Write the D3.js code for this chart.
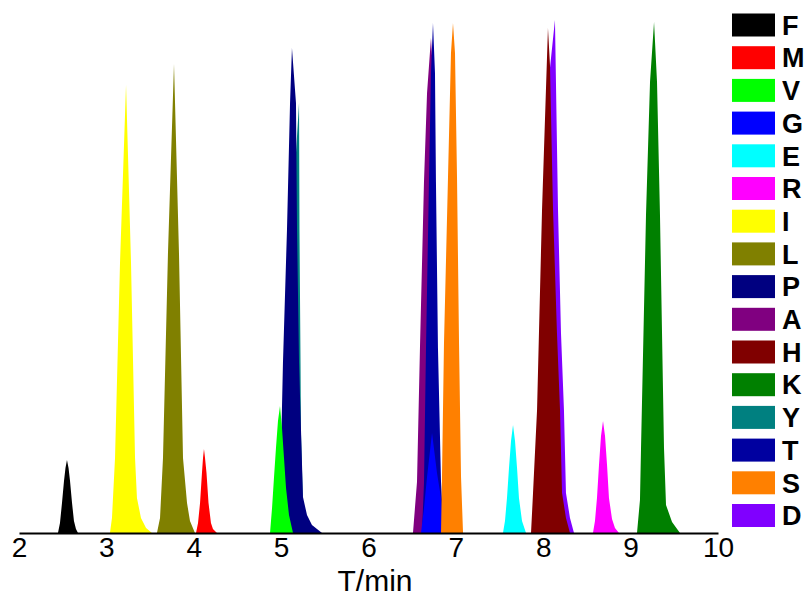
<!DOCTYPE html>
<html>
<head>
<meta charset="utf-8">
<script src="https://cdn.jsdelivr.net/npm/d3@7"></script>
<style>
  html, body { margin: 0; padding: 0; background: #fff; }
  svg { display: block; }
  text { font-family: "Liberation Sans", Arial, Helvetica, sans-serif; }
</style>
</head>
<body>
<svg id="chart" width="804" height="597"></svg>
<script>
// Amino acid chromatogram: retention time (min) vs detector response (a.u.)
const legendOrder = ["F", "M", "V", "G", "E", "R", "I", "L", "P", "A", "H", "K", "Y", "T", "S", "D"];
const seriesColors = ["#000000", "#ff0000", "#00ff00", "#0000ff", "#00ffff", "#ff00ff", "#ffff00", "#808000",
                      "#000080", "#800080", "#800000", "#008000", "#008080", "#0000a0", "#ff8000", "#8000ff"];
// peaks painted back to front
const drawOrder = ["F", "M", "I", "L", "Y", "P", "V", "A", "T", "G", "S", "E", "D", "H", "R", "K"];
const xTicks = [2, 3, 4, 5, 6, 7, 8, 9, 10];

// [retention time, response] points along each peak outline
const peakF = [[2.446,0],[2.469,10],[2.492,30],[2.515,52],[2.532,65],[2.549,73],[2.567,65],[2.584,52],[2.607,30],[2.629,12],[2.652,4],[2.675,0]];
const peakM = [[4.026,0],[4.049,10],[4.072,30],[4.094,60],[4.106,75],[4.117,84],[4.129,75],[4.146,60],[4.169,30],[4.197,10],[4.220,4],[4.266,0]];
const peakV = [[4.873,0],[4.896,25],[4.918,55],[4.941,85],[4.964,112],[4.987,127],[5.010,105],[5.033,75],[5.056,45],[5.090,18],[5.136,0]];
const peakG = [[6.601,0],[6.635,25],[6.670,56],[6.727,100],[6.784,60],[6.830,35],[6.864,0]];
const peakE = [[7.539,0],[7.562,12],[7.585,35],[7.608,65],[7.631,92],[7.654,108],[7.677,92],[7.700,65],[7.722,35],[7.757,12],[7.803,0]];
const peakR = [[8.569,0],[8.592,12],[8.615,35],[8.638,68],[8.661,97],[8.684,112],[8.707,97],[8.730,68],[8.752,35],[8.787,14],[8.821,5],[8.867,0]];
const peakI = [[3.041,0],[3.064,15],[3.099,75],[3.156,270],[3.225,448],[3.282,270],[3.328,75],[3.350,35],[3.396,15],[3.454,5],[3.522,0]];
const peakL = [[3.579,0],[3.614,15],[3.648,75],[3.705,280],[3.774,469],[3.831,280],[3.877,75],[3.923,30],[3.957,12],[4.014,0]];
const peakP = [[4.953,0],[4.987,36],[5.021,170],[5.067,303],[5.102,430],[5.124,485],[5.170,430],[5.182,303],[5.205,170],[5.250,36],[5.296,18],[5.353,8],[5.468,0]];
const peakA = [[6.509,0],[6.555,51],[6.589,185],[6.635,351],[6.670,440],[6.715,495],[6.738,460],[6.761,300],[6.784,150],[6.818,40],[6.853,0]];
const peakH = [[7.860,0],[7.883,40],[7.929,123],[7.986,323],[8.054,505],[8.077,468],[8.112,323],[8.157,200],[8.192,123],[8.215,40],[8.260,15],[8.306,0]];
const peakK = [[9.073,0],[9.107,33],[9.119,85],[9.176,318],[9.222,451],[9.268,511],[9.302,451],[9.336,318],[9.382,85],[9.405,28],[9.474,11],[9.565,0]];
const peakY = [[5.044,0],[5.079,100],[5.136,250],[5.170,380],[5.205,430],[5.210,303],[5.222,170],[5.227,100],[5.250,30],[5.285,0]];
const peakT = [[6.612,0],[6.635,50],[6.658,185],[6.692,351],[6.715,460],[6.738,510],[6.761,460],[6.772,351],[6.795,185],[6.830,51],[6.853,15],[6.887,0]];
const peakS = [[6.830,0],[6.841,56],[6.864,190],[6.910,356],[6.944,480],[6.967,510],[6.990,480],[7.013,356],[7.036,190],[7.059,56],[7.082,0]];
const peakD = [[7.963,0],[8.031,250],[8.077,465],[8.134,513],[8.169,323],[8.203,200],[8.237,123],[8.260,40],[8.306,15],[8.352,0]];

const peaks = {F: peakF, M: peakM, V: peakV, G: peakG, E: peakE, R: peakR, I: peakI, L: peakL,
               P: peakP, A: peakA, H: peakH, K: peakK, Y: peakY, T: peakT, S: peakS, D: peakD};
const colorOf = Object.fromEntries(legendOrder.map((k, i) => [k, seriesColors[i]]));

const svg = d3.select("#chart");
const x = d3.scaleLinear().domain([2, 10]).range([19, 718]);
const y = d3.scaleLinear().domain([0, 520]).range([533, 13]);

const area = d3.area()
  .x(d => x(d[0]))
  .y0(y(0))
  .y1(d => y(d[1]))
  .curve(d3.curveLinear);

svg.append("g")
  .selectAll("path")
  .data(drawOrder)
  .join("path")
  .attr("d", k => area(peaks[k]))
  .attr("fill", k => colorOf[k]);

// x axis: baseline with labels only
const axis = svg.append("g")
  .attr("transform", `translate(0,${y(0)})`)
  .call(d3.axisBottom(x).tickValues(xTicks).tickFormat(d3.format("d")).tickSize(0).tickSizeOuter(0).tickPadding(4.5));
axis.select(".domain").attr("stroke", "#000").attr("stroke-width", 2);
axis.selectAll(".tick text")
  .attr("fill", "#000")
  .style("font-size", "28px")
  .style("font-family", "'Liberation Sans', Arial, sans-serif");

svg.append("text")
  .attr("x", 375)
  .attr("y", 590.6)
  .attr("text-anchor", "middle")
  .style("font-size", "30px")
  .text("T/min");

// legend
const legend = svg.append("g");
const rows = legend.selectAll("g")
  .data(legendOrder)
  .join("g")
  .attr("transform", (d, i) => `translate(732,${25 + i * 32.7})`);
rows.append("rect")
  .attr("x", 0).attr("y", -11.5)
  .attr("width", 43).attr("height", 23)
  .attr("fill", d => colorOf[d]);
rows.append("text")
  .attr("x", 50).attr("y", 0)
  .attr("dy", "0.36em")
  .style("font-size", "27px")
  .style("font-weight", "bold")
  .text(d => d);
</script>
</body>
</html>
